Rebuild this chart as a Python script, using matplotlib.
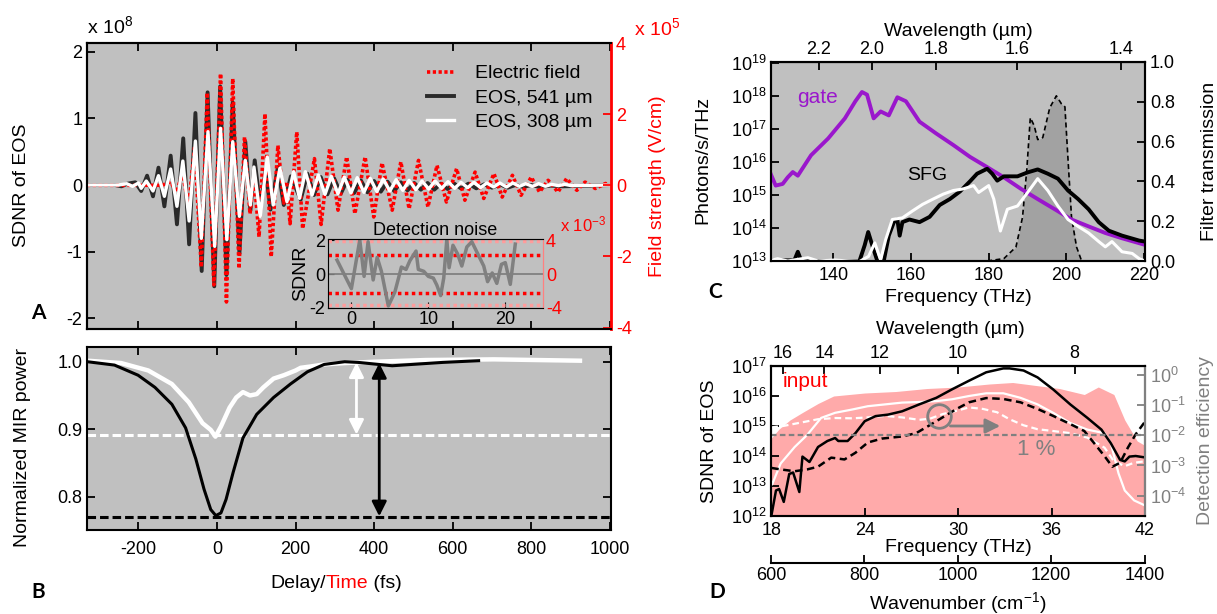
import numpy as np
import matplotlib
matplotlib.use('Agg')
import matplotlib.pyplot as plt
from matplotlib.ticker import NullLocator, FixedLocator

plt.rcParams['font.family'] = ['Liberation Sans', 'DejaVu Sans']
plt.rcParams['mathtext.fontset'] = 'custom'
plt.rcParams['mathtext.rm'] = 'Liberation Sans'
plt.rcParams['mathtext.it'] = 'Liberation Sans:italic'
plt.rcParams['mathtext.bf'] = 'Liberation Sans:bold'
plt.rcParams['mathtext.default'] = 'regular'
plt.rcParams['axes.unicode_minus'] = False

# ---------------- Panel A data: EOS traces (x1e8) and electric field (x1e5) -------------
t_eos541 = [-331, -260, -243, -228, -208, -193, -178, -163, -149, -134, -118, -102, -86, -71,
            -55, -39, -24, -7, 8, 24, 40, 57, 72, 85, 96, 110, 124, 136, 155, 170, 188, 213,
            230, 247, 264, 281, 298, 315, 332, 349, 366, 383, 400, 417, 434, 451, 468, 485,
            502, 519, 536, 553, 570, 587, 604, 621, 640, 660, 680, 700, 720, 740, 760, 780,
            800, 820, 850, 880, 1003]
v_eos541 = [0, 0.0, -0.02, 0.02, 0.04, -0.09, 0.14, -0.17, 0.26, -0.32, 0.44, -0.59, 0.70, -0.89,
            1.08, -1.29, 1.39, -1.52, 1.48, -1.35, 1.24, -1.03, 0.65, -0.38, 0.37, -0.33, 0.22,
            -0.37, 0.27, -0.30, 0.13, -0.22, 0.17, -0.15, 0.12, -0.14, 0.10, -0.13, 0.08, -0.12,
            0.07, -0.11, 0.06, -0.10, 0.05, -0.09, 0.04, -0.08, 0.03, -0.07, 0.03, -0.07, 0.02,
            -0.06, 0.02, -0.05, 0.02, -0.05, 0.01, -0.04, 0.01, -0.04, 0.0, -0.03, 0.0, -0.03,
            -0.01, -0.02, 0.0]

t_eos308 = [-331, -250, -230, -215, -200, -193, -180, -163, -149, -134, -118, -102, -87, -71,
            -55, -40, -23, -6, 9, 25, 40, 57, 72, 85, 94, 110, 128, 143, 160, 178, 195, 210,
            225, 242, 258, 275, 291, 308, 324, 341, 357, 374, 390, 407, 423, 440, 456, 473,
            489, 506, 522, 539, 555, 572, 588, 605, 621, 638, 654, 671, 687, 704, 720, 737,
            753, 770, 786, 803, 819, 836, 852, 869, 885, 902, 1003]
v_eos308 = [0, 0.0, 0.02, -0.02, 0.03, -0.05, 0.06, -0.09, 0.14, -0.17, 0.24, -0.32, 0.36, -0.54,
            0.66, -0.80, 0.80, -0.92, 0.85, -0.82, 0.65, -0.47, 0.37, -0.30, 0.27, -0.47, 0.42,
            -0.30, 0.25, -0.25, 0.20, -0.20, 0.20, -0.15, 0.15, -0.14, 0.13, -0.13, 0.12, -0.12,
            0.11, -0.11, 0.10, -0.10, 0.09, -0.09, 0.08, -0.08, 0.07, -0.07, 0.06, -0.06, 0.06,
            -0.05, 0.05, -0.05, 0.04, -0.04, 0.04, -0.04, 0.03, -0.03, 0.03, -0.03, 0.03, -0.02,
            0.02, -0.02, 0.02, -0.02, 0.01, -0.01, 0.01, -0.01, 0.0]

t_field = [-331, -140, -118, -103, -88, -72, -57, -40, -25, -8, 9, 24, 40, 56, 70, 84, 94, 107,
           122, 138, 155, 170, 177, 186, 203, 218, 248, 265, 287, 308, 330, 351, 377, 399, 420,
           446, 468, 489, 513, 537, 560, 584, 610, 631, 657, 679, 705, 726, 752, 774, 800, 821,
           843, 868, 890, 916, 937, 963, 989, 1003]
e_field = [0, 0, 0.1, -0.2, 0.35, -0.6, 1.1, -2.3, 2.6, -2.8, 3.14, -3.28, 3.0, -2.34, 1.36,
           -0.8, 0.3, -1.45, 2.01, -2.01, 1.12, -0.5, 0.1, -1.08, 1.50, -1.22, 0.75, -1.1, 1.03,
           -0.70, 0.80, -0.80, 0.80, -0.89, 0.63, -0.70, 0.66, -0.66, 0.70, -0.61, 0.56, -0.47,
           0.47, -0.42, 0.37, -0.37, 0.33, -0.33, 0.28, -0.28, 0.23, -0.19, 0.14, -0.19, 0.19,
           -0.14, 0.09, -0.09, 0.05, 0.0]

# Inset: detection noise
noise_x = [-1.87, 0, 1.09, 1.65, 2.17, 2.83, 3.35, 3.9, 4.8, 5.65, 6.5, 7.1, 7.6, 8.4, 8.7, 9.4,
           10.0, 10.65, 11.1, 11.6, 12.0, 12.4, 12.7, 13.2, 13.8, 14.35, 15.0, 15.65, 16.2,
           17.2, 17.7, 18.3, 18.9, 19.5, 20.0, 20.65, 21.3]
noise_sdnr = [0.82, -0.86, 2.0, -0.14, 1.9, -0.35, 0.98, 0.16, -1.88, -1.06, 0.41, 0.27, 0.78,
              1.35, 0.27, 0.16, -0.14, -0.24, -0.65, -1.27, -0.24, 2.04, 0.37, 1.69, 1.18, 0.47,
              1.59, 1.9, 1.39, 0.47, -0.45, 0.06, -0.55, 0.57, 0.67, -0.61, 1.76]
noise_levels = [1.13, -1.11]
noise_bounds = [1.95, -1.82]

# ---------------- Panel B data ----------------
t_b_black = [-330, -261, -201, -158, -115, -80, -54, -33, -16, -3, 10, 23, 41, 66, 101, 144, 187,
             230, 273, 325, 359, 411, 446, 497, 575, 666]
p_b_black = [1.0, 0.995, 0.980, 0.962, 0.937, 0.902, 0.856, 0.811, 0.781, 0.772, 0.776, 0.796,
             0.836, 0.887, 0.922, 0.947, 0.967, 0.985, 0.996, 1.0, 0.999, 0.996, 0.994, 0.996,
             0.999, 1.0015]
t_b_white = [-330, -244, -175, -115, -72, -37, -16, -4, 10, 32, 49, 66, 84, 101, 118, 144, 170,
             200, 213, 239, 273, 325, 403, 532, 705, 924]
p_b_white = [1.0015, 0.998, 0.987, 0.967, 0.94, 0.909, 0.899, 0.889, 0.904, 0.932, 0.947, 0.955,
             0.950, 0.952, 0.962, 0.975, 0.980, 0.987, 0.991, 0.993, 0.996, 0.998, 1.0, 1.0025,
             1.0035, 1.0015]
b_levels = [0.891, 0.770]
b_arrow_t = [355, 413]

# ---------------- Panel C data ----------------
gate_f = [123.9, 125.2, 127, 128.3, 129.6, 130.9, 134.3, 138.7, 143, 145.7, 147.4, 148.7, 150.4,
          152.2, 154.3, 156.5, 158.7, 162.2, 166.5, 170.9, 175.2, 179.6, 183.9, 188.3, 192.6,
          197, 201.3, 205.7, 210, 214.3, 220.2]
gate_log = [15.65, 15.29, 15.34, 15.54, 15.70, 15.59, 16.21, 16.72, 17.33, 17.85, 18.13, 18.05,
            17.33, 17.54, 17.42, 17.97, 17.85, 17.23, 16.87, 16.52, 16.16, 15.85, 15.54, 15.19,
            14.88, 14.57, 14.26, 14.05, 13.85, 13.69, 13.49]
sfg541_f = [123.9, 130.0, 130.9, 131.8, 146.7, 148.1, 149.0, 150.2, 151.3, 153.0, 154.3, 155.6,
            156.5, 157.1, 157.8, 159.6, 162.2, 164.8, 167.4, 170, 172.6, 175.2, 177, 179.6,
            180.9, 182.2, 183.9, 187.4, 190, 192.6, 195.2, 197.8, 200.4, 203, 205.7, 208.3,
            210.9, 214.3, 218.7, 220.2]
sfg541_log = [13.02, 13.02, 13.28, 13.0, 12.98, 13.48, 13.88, 13.42, 13.02, 13.0, 13.77, 14.18,
              14.26, 13.77, 14.18, 14.26, 14.18, 14.34, 14.70, 14.88, 15.11, 15.42, 15.65, 15.8,
              15.65, 15.44, 15.57, 15.57, 15.69, 15.78, 15.65, 15.50, 15.14, 14.88, 14.57, 14.18,
              13.92, 13.77, 13.62, 13.59]
sfg308_f = [123.9, 125.7, 128.3, 133.5, 136.1, 140.4, 143.9, 146.7, 149.1, 150.7, 152.2, 153.5,
            155.2, 157.8, 160.4, 163, 165.7, 168.3, 170.9, 173.5, 176.1, 177.4, 180, 181.3, 183,
            184.8, 187.4, 190, 192.6, 195.2, 197.8, 200.4, 203, 205.7, 208.3, 210, 211.7, 214.3,
            216.9, 218.7, 220.2]
sfg308_log = [13.02, 13.07, 13.0, 13.1, 13.0, 13.03, 13.0, 12.98, 13.14, 13.55, 13.03, 13.65,
              14.26, 14.31, 14.52, 14.72, 14.88, 15.03, 15.14, 15.19, 15.29, 15.08, 15.29, 14.88,
              13.91, 14.57, 14.67, 15.08, 15.50, 15.14, 14.67, 14.26, 14.05, 13.85, 13.59, 13.43,
              13.59, 13.28, 13.23, 13.07, 13.0]
filter_f = [179.6, 183.9, 187, 188.7, 189.8, 190.7, 191.7, 192.6, 193.9, 195.7, 197.4, 198.7,
            199.6, 200.4, 201.3, 202.6, 203.9]
filter_T = [0, 0.012, 0.07, 0.22, 0.46, 0.72, 0.68, 0.61, 0.62, 0.77, 0.83, 0.79, 0.775, 0.51,
            0.22, 0.07, 0]

# ---------------- Panel D data ----------------
input_f = [18.0, 18.5, 19.2, 20.0, 21.0, 22.0, 24, 26, 28, 30, 32, 33.5, 35, 36.5, 38.1, 39.0,
           40.0, 40.7, 41.5, 42]
input_log = [14.6, 14.9, 15.2, 15.45, 15.75, 16.0, 16.1, 16.15, 16.25, 16.3, 16.4, 16.45, 16.35,
             16.25, 16.05, 16.3, 16.05, 15.2, 14.5, 14.35]
eos541_f = [18.0, 18.3, 18.5, 18.8, 19.15, 19.4, 19.8, 20.0, 20.45, 21.0, 21.6, 22.1, 22.3,
            22.9, 23.4, 24.0, 24.7, 25.5, 26.4, 27.5, 28.6, 29.6, 30.7, 31.8, 32.9, 33.3, 34.2,
            35.1, 36.1, 37.2, 38.3, 39.2, 39.8, 40.4, 40.7, 41.0, 41.4, 41.9, 42.0]
eos541_log = [12.0, 12.85, 12.9, 12.47, 13.4, 13.45, 12.8, 13.98, 13.8, 14.3, 14.5, 14.6, 14.5,
              14.5, 14.76, 15.16, 15.33, 15.38, 15.49, 15.72, 15.94, 16.22, 16.51, 16.79, 16.92,
              16.92, 16.85, 16.62, 16.22, 15.72, 15.27, 14.88, 14.43, 13.87, 13.82, 13.98, 14.0,
              13.96, 13.96]
eos308_f = [18.0, 18.05, 18.6, 19.5, 20.3, 21.2, 22.1, 23.2, 24.2, 25.3, 26.4, 27.5, 28.6, 29.6,
            30.7, 31.8, 32.9, 34.0, 35.1, 36.1, 37.2, 38.3, 39.4, 39.8, 40.3, 40.7, 41.3, 42.0]
eos308_log = [13.13, 13.05, 13.75, 14.3, 14.7, 15.27, 15.44, 15.55, 15.66, 15.72, 15.78, 15.8,
              15.83, 15.89, 16.0, 16.09, 16.09, 15.94, 15.72, 15.44, 15.1, 14.88, 14.76, 14.43,
              13.42, 12.85, 12.52, 12.35]
eff541_f = [18.0, 18.6, 19.5, 20.3, 21.0, 21.85, 22.7, 23.4, 24.2, 25.1, 26.4, 27.3, 28.1, 29.0,
            29.9, 30.7, 31.8, 32.9, 34.0, 35.1, 36.1, 37.2, 38.1, 38.7, 39.4, 39.9, 40.4, 40.9,
            41.4, 42.0]
eff541_log = [-3.08, -3.13, -3.19, -3.13, -3.04, -2.74, -2.8, -2.58, -2.24, -2.11, -2.04, -1.93,
              -1.69, -1.41, -1.13, -0.91, -0.77, -0.8, -0.91, -1.13, -1.36, -1.63, -1.86, -2.24,
              -2.69, -3.04, -2.91, -2.41, -1.97, -1.55]
eff308_f = [18.0, 18.8, 19.9, 21.0, 22.1, 23.2, 24.2, 25.3, 26.4, 27.5, 28.2, 29.0, 29.9, 30.7,
            31.6, 32.5, 33.3, 34.2, 35.1, 36.1, 37.2, 38.3, 39.4, 40.0, 40.7, 41.3, 42.0]
eff308_log = [-1.74, -1.69, -1.58, -1.47, -1.43, -1.44, -1.41, -1.36, -1.41, -1.49, -1.45, -1.3,
              -1.19, -1.08, -1.13, -1.24, -1.47, -1.67, -1.8, -1.86, -1.93, -2.08, -2.41, -2.86,
              -3.02, -2.91, -2.86]
one_percent = 1e-2

# ---------------- Figure ----------------
W, H = 1217, 614
fig = plt.figure(figsize=(W / 100, H / 100), dpi=100)
FS = 13
GRAY = '#c0c0c0'
DGRAY = '#808080'


def rect(l, t, r, b):
    return [l / W, 1 - b / H, (r - l) / W, (b - t) / H]


def ftext(x, y, s, **kw):
    return fig.text(x / W, 1 - y / H, s, **kw)


def style(ax, **kw):
    for sp in ax.spines.values():
        sp.set_linewidth(1.5)
    ax.tick_params(direction='in', length=6, width=1.3, labelsize=FS, **kw)


# ===== Panel A =====
axA = fig.add_axes(rect(87, 43, 611, 329), facecolor=GRAY)
axA.set_xlim(-331, 1003)
axA.set_ylim(-2.16, 2.13)
axAr = axA.twinx()
axAr.set_ylim(-4.04, 3.99)
axA.set_autoscale_on(False)
axA.plot(t_eos541, v_eos541, color='#2a2a2a', lw=2.8, label='EOS, 541 µm', zorder=2,
         solid_joinstyle='round')
axA.plot(t_field, e_field, color='red', lw=2.6, ls=(0, (0.9, 0.7)), label='Electric field',
         transform=axAr.transData, zorder=3)
axA.plot(t_eos308, v_eos308, color='white', lw=2.4, label='EOS, 308 µm', zorder=4,
         solid_joinstyle='round')
style(axA, top=True, labelbottom=False)
axA.tick_params(axis='y', right=False)
axA.set_xticks(range(-200, 1001, 200))
axA.set_yticks([-2, -1, 0, 1, 2])
axA.spines['right'].set_visible(False)
axAr.set_yticks([-4, -2, 0, 2, 4])
style(axAr)
axAr.tick_params(axis='y', colors='red')
axAr.spines['right'].set_color('red')
axAr.spines['right'].set_linewidth(2)
h, l = axA.get_legend_handles_labels()
order = [1, 0, 2]
axA.legend([h[i] for i in order], [l[i] for i in order], loc='upper left',
           bbox_to_anchor=(0.615, 0.985), frameon=False, fontsize=FS + 1, handlelength=1.4,
           labelspacing=0.35, handletextpad=1.1)

ftext(87, 26, r'x 10$^8$', fontsize=FS + 1, va='center', ha='left')
ftext(634, 28, r'x 10$^5$', fontsize=FS + 1, va='center', ha='left', color='red')
ftext(22, 185, 'SDNR of EOS', fontsize=FS + 1, rotation=90, va='center', ha='center')
ftext(658, 186, 'Field strength (V/cm)', fontsize=FS + 1, rotation=90, va='center',
      ha='center', color='red')
ftext(38, 313, 'A', fontsize=FS + 2, fontweight='bold', family='Lato', va='center', ha='center')

# inset
axI = fig.add_axes(rect(328, 239, 543, 308), facecolor=GRAY)
axI.set_xlim(-3.04, 24.9)
axI.set_ylim(-1.94, 2.06)
axI.axhline(0, color=DGRAY, lw=1.3)
for yv in noise_levels:
    axI.axhline(yv, color='red', ls=(0, (1, 1)), lw=2.5)
for yv in noise_bounds:
    axI.axhline(yv, color='#ff9c9c', ls=(0, (1, 1)), lw=2.5)
axI.plot(noise_x, noise_sdnr, color=DGRAY, lw=2.5)
for s in ['left', 'top', 'bottom']:
    axI.spines[s].set_color(DGRAY)
axI.spines['right'].set_color('#ff8080')
axI.tick_params(direction='in', length=4, labelsize=FS, pad=2)
axI.set_xticks([0, 10, 20])
axI.set_yticks([-2, 0, 2])
axI.set_ylabel('SDNR', fontsize=FS + 1, labelpad=0)
axI.set_title('Detection noise', fontsize=FS, pad=3)
axIr = axI.twinx()
axIr.set_ylim(-3.88, 4.12)
axIr.set_yticks([-4, 0, 4])
axIr.tick_params(direction='in', length=0, labelsize=FS, colors='red', pad=2)
axIr.spines['right'].set_color('#ff8080')
ftext(560, 224, r'x 10$^{-3}$', fontsize=FS - 1, color='red', va='center', ha='left')

# ===== Panel B =====
axB = fig.add_axes(rect(87, 347, 611, 530), facecolor=GRAY)
axB.set_xlim(-331, 1003)
axB.set_ylim(0.7507, 1.0218)
axB.plot(t_b_white, p_b_white, color='white', lw=3.2, zorder=2)
axB.plot(t_b_black, p_b_black, color='black', lw=2.2, zorder=3)
axB.axhline(b_levels[0], color='white', ls=(0, (2.8, 1.3)), lw=2.2, zorder=1)
axB.axhline(b_levels[1], color='black', ls=(0, (2.8, 1.3)), lw=2.2, zorder=1)
axB.annotate('', xy=(b_arrow_t[0], b_levels[0] + 0.001), xytext=(b_arrow_t[0], 0.999),
             arrowprops=dict(arrowstyle='<|-|>', color='white', lw=2, mutation_scale=22,
                             shrinkA=0, shrinkB=0), zorder=4)
axB.annotate('', xy=(b_arrow_t[1], b_levels[1] + 0.001), xytext=(b_arrow_t[1], 0.998),
             arrowprops=dict(arrowstyle='<|-|>', color='black', lw=2, mutation_scale=22,
                             shrinkA=0, shrinkB=0), zorder=4)
style(axB, top=True, right=True)
axB.set_xticks(range(-200, 1001, 200))
axB.set_yticks([0.8, 0.9, 1.0])
axB.set_yticklabels(['0.8', '0.9', '1.0'])
axB.tick_params(axis='x', pad=8)
ftext(23, 447, 'Normalized MIR power', fontsize=FS + 1, rotation=90, va='center', ha='center')
t1 = ftext(270, 583, 'Delay/', fontsize=FS + 1, va='center', ha='left')
a2 = fig.add_artist(matplotlib.text.Annotation('Time', xy=(1, 0), xycoords=t1, va='bottom',
                                               ha='left', fontsize=FS + 1, color='red'))
a3 = fig.add_artist(matplotlib.text.Annotation(' (fs)', xy=(1, 0), xycoords=a2, va='bottom',
                                               ha='left', fontsize=FS + 1))
ftext(38, 592, 'B', fontsize=FS + 2, fontweight='bold', family='Lato', va='center', ha='center')

# ===== Panel C =====
C_LIGHT = 299.792458


def f2w(f):
    f = np.asarray(f, dtype=float)
    return C_LIGHT / np.where(f == 0, 1e-9, f)


axC = fig.add_axes(rect(771, 62, 1145, 261), facecolor=GRAY)
axC.set_yscale('log')
axC.set_xlim(124, 220.2)
axC.set_ylim(1e13, 1.1e19)
axCr = axC.twinx()
axCr.set_ylim(0, 1.0)
axC.set_autoscale_on(False)
axC.fill_between(filter_f, 0, filter_T, transform=axCr.transData, color='#a2a2a2', lw=0,
                 zorder=1)
axC.plot(filter_f, filter_T, color='black', ls=(0, (3, 2)), lw=1.2, transform=axCr.transData,
         zorder=2)
axC.plot(gate_f, 10 ** np.array(gate_log), color='#9a17cc', lw=2.8, zorder=3)
axC.plot(sfg541_f, 10 ** np.array(sfg541_log), color='black', lw=2.8, zorder=4)
axC.plot(sfg308_f, 10 ** np.array(sfg308_log), color='white', lw=2.2, zorder=5)
style(axC, top=False)
axC.tick_params(axis='y', right=False)
axC.set_xticks([140, 160, 180, 200, 220])
axC.yaxis.set_major_locator(FixedLocator([1e13, 1e14, 1e15, 1e16, 1e17, 1e18, 1e19]))
axC.yaxis.set_minor_locator(NullLocator())
axC.tick_params(axis='y', pad=3)
axC.tick_params(axis='x', pad=4)
style(axCr)
axCr.set_yticks([0, 0.2, 0.4, 0.6, 0.8, 1.0])
axCr.set_yticklabels(['0.0', '0.2', '0.4', '0.6', '0.8', '1.0'])
secC = axC.secondary_xaxis('top', functions=(f2w, f2w))
secC.set_xticks([2.2, 2.0, 1.8, 1.6, 1.4])
secC.set_xticklabels(['2.2', '2.0', '1.8', '1.6', '1.4'])
secC.tick_params(direction='in', length=6, width=1.3, labelsize=FS, pad=3)
axC.text(130.6, 10 ** 17.95, 'gate', color='#9a17cc', fontsize=FS + 2, va='center', ha='left')
axC.text(164.3, 10 ** 15.6, 'SFG', color='black', fontsize=FS + 1, va='center', ha='center')
ftext(703, 160, 'Photons/s/THz', fontsize=FS + 1, rotation=90, va='center', ha='center')
ftext(1210, 161, 'Filter transmission', fontsize=FS + 1, rotation=90, va='center', ha='center')
ftext(958, 297, 'Frequency (THz)', fontsize=FS + 1, va='center', ha='center')
ftext(958, 32, 'Wavelength (µm)', fontsize=FS + 1, va='center', ha='center')
ftext(715, 292, 'C', fontsize=FS + 2, fontweight='bold', family='Lato', va='center', ha='center')

# ===== Panel D =====
axD = fig.add_axes(rect(771, 366, 1145, 516), facecolor='white')
axD.set_yscale('log')
axD.set_xlim(17.98, 42.0)
axD.set_ylim(1e12, 1e17)
axDr = axD.twinx()
axDr.set_yscale('log')
axDr.set_ylim(10 ** -4.67, 10 ** 0.29)
axD.set_autoscale_on(False)
axDr.set_autoscale_on(False)
axD.fill_between(input_f, 1e12, 10 ** np.array(input_log), color='#ffaaaa', lw=0, zorder=1)
axD.plot(eos541_f, 10 ** np.array(eos541_log), color='black', lw=1.8, zorder=4)
axD.plot(eos308_f, 10 ** np.array(eos308_log), color='white', lw=1.6, zorder=3)
axD.plot(eff541_f, 10 ** np.array(eff541_log), color='black', lw=1.8, ls=(0, (3, 1.8)),
         transform=axDr.transData, zorder=4)
axD.plot(eff308_f, 10 ** np.array(eff308_log), color='white', lw=1.6, ls=(0, (3, 1.8)),
         transform=axDr.transData, zorder=3)
axD.plot([18, 42], [one_percent, one_percent], color=DGRAY, lw=1.6, ls=(0, (2.5, 1.5)),
         transform=axDr.transData, zorder=5)
axD.plot([28.78], [2.1e15], marker='o', ms=17, mfc='none', mec=DGRAY, mew=2, zorder=6)
axD.annotate('', xy=(32.7, 1e15), xytext=(29.5, 1e15),
             arrowprops=dict(arrowstyle='-|>', color=DGRAY, lw=2, mutation_scale=22,
                             shrinkA=0, shrinkB=0), zorder=6)
axD.text(35.0, 10 ** 14.23, '1 %', color=DGRAY, fontsize=FS + 3, va='center', ha='center')
axD.text(18.75, 10 ** 16.47, 'input', color='red', fontsize=FS + 2, va='center', ha='left')
style(axD, top=False)
axD.tick_params(axis='y', right=False)
axD.spines['bottom'].set_color('#7a1010')
axD.set_xticks([18, 24, 30, 36, 42])
axD.yaxis.set_major_locator(FixedLocator([1e12, 1e13, 1e14, 1e15, 1e16, 1e17]))
axD.yaxis.set_minor_locator(NullLocator())
axD.tick_params(axis='y', pad=3)
axD.tick_params(axis='x', pad=4)
style(axDr)
axDr.yaxis.set_major_locator(FixedLocator([1e-4, 1e-3, 1e-2, 1e-1, 1e0]))
axDr.yaxis.set_minor_locator(NullLocator())
axDr.tick_params(axis='y', colors=DGRAY)
axDr.spines['right'].set_color(DGRAY)
secDt = axD.secondary_xaxis('top', functions=(f2w, f2w))
secDt.set_xticks([16, 14, 12, 10, 8])
secDt.tick_params(direction='in', length=6, width=1.3, labelsize=FS, pad=3)
KCM = 33.35641
secDb = axD.secondary_xaxis(-0.313, functions=(lambda f: np.asarray(f) * KCM,
                                               lambda k: np.asarray(k) / KCM))
secDb.set_xticks([600, 800, 1000, 1200, 1400])
secDb.tick_params(direction='in', length=6, width=1.3, labelsize=FS, pad=3)
secDb.spines['bottom'].set_linewidth(1.5)
ftext(710, 441, 'SDNR of EOS', fontsize=FS + 1, rotation=90, va='center', ha='center')
ftext(1205, 441, 'Detection efficiency', fontsize=FS + 1, rotation=90, va='center',
      ha='center', color=DGRAY)
ftext(958, 547, 'Frequency (THz)', fontsize=FS + 1, va='center', ha='center')
ftext(950, 330, 'Wavelength (µm)', fontsize=FS + 1, va='center', ha='center')
ftext(958, 603, r'Wavenumber (cm$^{-1}$)', fontsize=FS + 1, va='center', ha='center')
ftext(717, 592, 'D', fontsize=FS + 2, fontweight='bold', family='Lato', va='center', ha='center')

fig.savefig('out.png', dpi=100)
